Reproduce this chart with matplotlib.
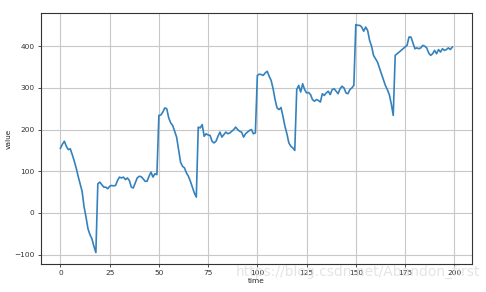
import matplotlib
matplotlib.use("Agg")
import matplotlib.pyplot as plt
import numpy as np

time = list(range(200))
value = [
    # 0-18
    155, 165, 172, 160, 152, 154, 140, 125, 108, 88, 70, 52, 15, -10, -38, -52, -62, -80, -95,
    # 19-49
    70, 74, 68, 62, 62, 58, 64, 66, 65, 66, 78, 86, 84, 86, 80, 84, 78, 62, 60, 72, 84, 88, 87, 82, 76, 76, 88, 98, 86, 94, 92,
    # 50-69
    234, 235, 242, 252, 250, 228, 216, 210, 196, 182, 152, 122, 112, 108, 96, 88, 76, 62, 48, 38,
    # 70-99
    206, 204, 212, 184, 190, 187, 186, 172, 168, 172, 184, 194, 182, 188, 194, 190, 192, 196, 200, 206, 200, 196, 194, 182, 190, 194, 198, 200, 190, 192,
    # 100-119
    330, 333, 332, 330, 336, 340, 328, 318, 298, 272, 252, 248, 253, 232, 208, 190, 168, 160, 156, 150,
    # 120-149
    296, 306, 290, 310, 296, 288, 289, 284, 272, 268, 272, 270, 266, 286, 282, 288, 292, 284, 296, 298, 292, 286, 298, 304, 300, 288, 286, 296, 300, 306,
    # 150-169
    452, 450, 450, 446, 436, 446, 438, 414, 400, 378, 370, 362, 348, 334, 320, 306, 296, 284, 262, 234,
    # 170-199
    378, 382, 386, 390, 394, 398, 402, 422, 422, 408, 394, 396, 394, 396, 402, 400, 396, 384, 378, 382, 390, 382, 392, 386, 394, 390, 392, 396, 392, 398,
]
xticks = [0, 25, 50, 75, 100, 125, 150, 175, 200]
yticks = [-100, 0, 100, 200, 300, 400]

fs = 5.3
fig = plt.figure(figsize=(4.86, 2.92), dpi=100)
ax = fig.add_axes([0.084, 0.096, 0.887, 0.859])
ax.plot(time, value, color="#3482bd", linewidth=1.2)
ax.set_xticks(xticks)
ax.set_yticks(yticks)
ax.tick_params(labelsize=fs, length=2.5, width=0.6, pad=2, colors="#333333")
ax.grid(True, color="#c8c8c8", linewidth=0.8)
for s in ax.spines.values():
    s.set_linewidth(0.8)
    s.set_color("#333333")
ax.set_xlabel("time", fontsize=fs, labelpad=1, color="#222222")
ax.set_ylabel("value", fontsize=fs, labelpad=2, color="#222222")
fig.text(0.485, 0.068, "https://blog.csdn.net/Abandon_first", fontsize=10,
         color="#dcdcdc", alpha=0.75, va="center", ha="left", zorder=0)
fig.savefig("out.png", dpi=100)
